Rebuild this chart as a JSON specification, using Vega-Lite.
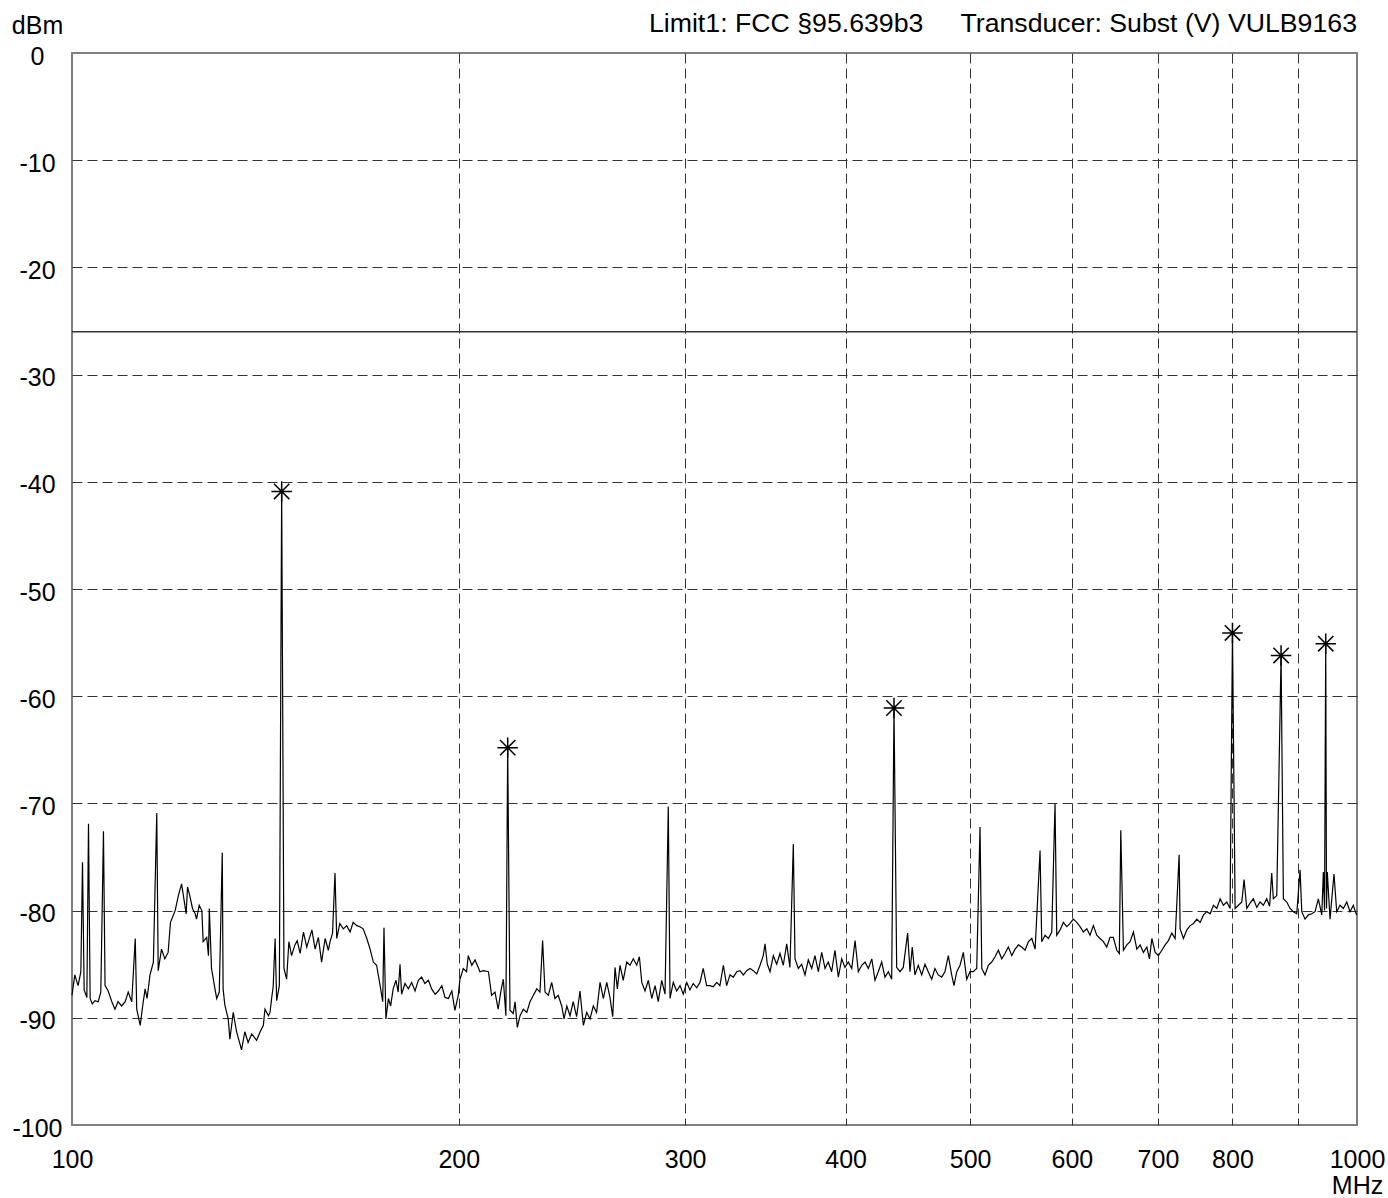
{
"$schema": "https://vega.github.io/schema/vega-lite/v6.json",
"width": 1285, "height": 1072,
"autosize": {"type": "none"},
"padding": {"left": 72, "top": 53, "right": 31, "bottom": 73},
"background": "white",
"title": {"text": "Limit1: FCC §95.639b3\u00a0\u00a0\u00a0\u00a0\u00a0Transducer: Subst (V) VULB9163", "anchor": "end", "frame": "group", "orient": "top", "baseline": "alphabetic", "offset": 20, "dy": 66, "font": "Liberation Sans", "fontSize": 26.7, "fontWeight": "normal", "color": "black"},
"config": {"view": {"stroke": "#808080", "strokeWidth": 2}, "font": "Liberation Sans"},
"datasets": {
"limit": [{"dBm": -26}],
"peaks": [{"MHz":145.6,"dBm":-40.9},{"MHz":218.3,"dBm":-64.8},{"MHz":436.2,"dBm":-61.1},{"MHz":800.0,"dBm":-54.1},{"MHz":872.8,"dBm":-56.2},{"MHz":945.5,"dBm":-55.1}],
"trace": [
{"MHz":100.0,"dBm":-87.9},{"MHz":100.5,"dBm":-86.0},{"MHz":101.1,"dBm":-87.0},{"MHz":101.6,"dBm":-85.7},{"MHz":101.9,"dBm":-75.5},{"MHz":102.2,"dBm":-87.4},{"MHz":102.7,"dBm":-88.1},{"MHz":103.0,"dBm":-71.9},{"MHz":103.3,"dBm":-88.2},{"MHz":103.7,"dBm":-88.7},{"MHz":104.2,"dBm":-88.4},{"MHz":104.8,"dBm":-88.5},{"MHz":105.3,"dBm":-87.6},{"MHz":105.8,"dBm":-72.6},{"MHz":106.1,"dBm":-87.0},{"MHz":106.7,"dBm":-87.5},{"MHz":107.4,"dBm":-88.5},{"MHz":108.0,"dBm":-89.2},{"MHz":108.6,"dBm":-88.5},{"MHz":109.3,"dBm":-88.9},{"MHz":110.0,"dBm":-88.5},{"MHz":110.6,"dBm":-87.6},{"MHz":111.3,"dBm":-88.5},{"MHz":112.0,"dBm":-82.6},{"MHz":112.3,"dBm":-89.2},{"MHz":113.0,"dBm":-90.7},{"MHz":113.5,"dBm":-88.9},{"MHz":114.0,"dBm":-87.3},{"MHz":114.4,"dBm":-88.2},{"MHz":115.0,"dBm":-86.0},{"MHz":115.7,"dBm":-84.8},{"MHz":116.4,"dBm":-70.9},{"MHz":116.7,"dBm":-85.6},{"MHz":117.4,"dBm":-83.6},{"MHz":118.1,"dBm":-84.5},{"MHz":118.8,"dBm":-83.9},{"MHz":119.3,"dBm":-81.1},{"MHz":120.3,"dBm":-80.0},{"MHz":121.0,"dBm":-78.6},{"MHz":121.7,"dBm":-77.5},{"MHz":122.2,"dBm":-78.9},{"MHz":122.7,"dBm":-80.3},{"MHz":123.0,"dBm":-77.8},{"MHz":123.5,"dBm":-78.6},{"MHz":124.1,"dBm":-79.8},{"MHz":124.7,"dBm":-80.3},{"MHz":125.0,"dBm":-80.8},{"MHz":125.6,"dBm":-79.5},{"MHz":126.2,"dBm":-80.0},{"MHz":126.5,"dBm":-82.9},{"MHz":127.3,"dBm":-82.5},{"MHz":127.7,"dBm":-84.2},{"MHz":127.9,"dBm":-79.8},{"MHz":128.4,"dBm":-85.4},{"MHz":129.2,"dBm":-87.3},{"MHz":129.6,"dBm":-88.2},{"MHz":130.2,"dBm":-87.6},{"MHz":130.9,"dBm":-74.6},{"MHz":131.1,"dBm":-87.3},{"MHz":131.5,"dBm":-88.8},{"MHz":132.3,"dBm":-90.1},{"MHz":132.7,"dBm":-92.0},{"MHz":133.5,"dBm":-89.5},{"MHz":134.3,"dBm":-91.3},{"MHz":135.5,"dBm":-93.0},{"MHz":136.3,"dBm":-91.3},{"MHz":137.1,"dBm":-92.3},{"MHz":138.0,"dBm":-91.5},{"MHz":139.2,"dBm":-92.1},{"MHz":140.1,"dBm":-91.3},{"MHz":140.9,"dBm":-90.7},{"MHz":141.3,"dBm":-89.2},{"MHz":142.2,"dBm":-89.8},{"MHz":142.6,"dBm":-89.5},{"MHz":143.0,"dBm":-88.2},{"MHz":143.4,"dBm":-87.1},{"MHz":143.9,"dBm":-82.6},{"MHz":144.3,"dBm":-88.4},{"MHz":145.0,"dBm":-87.0},{"MHz":145.6,"dBm":-40.9},{"MHz":146.2,"dBm":-85.4},{"MHz":146.9,"dBm":-86.4},{"MHz":147.5,"dBm":-82.9},{"MHz":148.2,"dBm":-84.2},{"MHz":149.1,"dBm":-83.2},{"MHz":149.7,"dBm":-82.8},{"MHz":150.5,"dBm":-84.0},{"MHz":151.4,"dBm":-82.0},{"MHz":152.3,"dBm":-83.4},{"MHz":153.7,"dBm":-81.8},{"MHz":154.6,"dBm":-83.6},{"MHz":155.5,"dBm":-82.5},{"MHz":156.4,"dBm":-84.8},{"MHz":157.4,"dBm":-82.6},{"MHz":158.3,"dBm":-83.7},{"MHz":158.8,"dBm":-82.9},{"MHz":159.5,"dBm":-82.1},{"MHz":160.2,"dBm":-76.5},{"MHz":160.7,"dBm":-82.6},{"MHz":161.6,"dBm":-81.2},{"MHz":162.6,"dBm":-81.7},{"MHz":163.6,"dBm":-81.4},{"MHz":164.6,"dBm":-82.0},{"MHz":165.5,"dBm":-81.1},{"MHz":166.6,"dBm":-81.4},{"MHz":167.5,"dBm":-81.5},{"MHz":168.5,"dBm":-81.7},{"MHz":169.6,"dBm":-82.6},{"MHz":170.6,"dBm":-83.6},{"MHz":171.6,"dBm":-84.8},{"MHz":172.6,"dBm":-85.1},{"MHz":173.7,"dBm":-87.0},{"MHz":174.5,"dBm":-88.5},{"MHz":174.9,"dBm":-81.6},{"MHz":175.5,"dBm":-90.1},{"MHz":176.3,"dBm":-88.2},{"MHz":177.0,"dBm":-88.9},{"MHz":177.8,"dBm":-87.3},{"MHz":178.7,"dBm":-86.5},{"MHz":179.4,"dBm":-87.6},{"MHz":180.0,"dBm":-85.0},{"MHz":180.5,"dBm":-87.8},{"MHz":181.6,"dBm":-86.8},{"MHz":182.7,"dBm":-87.3},{"MHz":183.8,"dBm":-86.7},{"MHz":184.9,"dBm":-87.5},{"MHz":186.0,"dBm":-86.5},{"MHz":187.1,"dBm":-86.2},{"MHz":188.2,"dBm":-86.8},{"MHz":189.4,"dBm":-86.5},{"MHz":190.5,"dBm":-87.3},{"MHz":191.7,"dBm":-87.8},{"MHz":192.8,"dBm":-87.5},{"MHz":194.0,"dBm":-87.0},{"MHz":195.1,"dBm":-88.1},{"MHz":196.3,"dBm":-88.2},{"MHz":197.5,"dBm":-87.5},{"MHz":198.6,"dBm":-89.3},{"MHz":199.8,"dBm":-87.9},{"MHz":200.4,"dBm":-86.4},{"MHz":201.6,"dBm":-85.4},{"MHz":202.8,"dBm":-85.7},{"MHz":203.4,"dBm":-84.2},{"MHz":204.7,"dBm":-85.1},{"MHz":205.9,"dBm":-84.6},{"MHz":207.1,"dBm":-85.3},{"MHz":207.7,"dBm":-85.7},{"MHz":209.0,"dBm":-85.6},{"MHz":210.9,"dBm":-85.7},{"MHz":212.1,"dBm":-87.9},{"MHz":213.4,"dBm":-87.6},{"MHz":214.6,"dBm":-89.2},{"MHz":215.6,"dBm":-87.6},{"MHz":216.6,"dBm":-86.4},{"MHz":217.6,"dBm":-89.8},{"MHz":218.3,"dBm":-64.8},{"MHz":219.2,"dBm":-89.3},{"MHz":220.5,"dBm":-89.6},{"MHz":221.2,"dBm":-88.5},{"MHz":222.1,"dBm":-90.9},{"MHz":223.2,"dBm":-89.8},{"MHz":224.5,"dBm":-89.2},{"MHz":225.9,"dBm":-89.5},{"MHz":227.2,"dBm":-88.5},{"MHz":228.6,"dBm":-87.9},{"MHz":230.0,"dBm":-87.3},{"MHz":231.3,"dBm":-87.6},{"MHz":232.4,"dBm":-82.8},{"MHz":233.4,"dBm":-87.6},{"MHz":234.8,"dBm":-87.9},{"MHz":236.2,"dBm":-86.7},{"MHz":237.6,"dBm":-88.2},{"MHz":239.0,"dBm":-87.9},{"MHz":240.5,"dBm":-88.9},{"MHz":241.5,"dBm":-90.1},{"MHz":242.7,"dBm":-88.9},{"MHz":244.1,"dBm":-89.8},{"MHz":245.5,"dBm":-88.5},{"MHz":247.0,"dBm":-89.9},{"MHz":248.5,"dBm":-87.5},{"MHz":250.0,"dBm":-90.7},{"MHz":251.5,"dBm":-89.5},{"MHz":253.0,"dBm":-90.1},{"MHz":254.5,"dBm":-88.9},{"MHz":256.0,"dBm":-89.5},{"MHz":257.6,"dBm":-86.7},{"MHz":259.1,"dBm":-88.2},{"MHz":260.7,"dBm":-86.7},{"MHz":262.2,"dBm":-88.1},{"MHz":263.5,"dBm":-89.9},{"MHz":264.6,"dBm":-85.3},{"MHz":265.7,"dBm":-87.3},{"MHz":267.0,"dBm":-85.1},{"MHz":268.5,"dBm":-86.5},{"MHz":270.2,"dBm":-84.8},{"MHz":271.8,"dBm":-85.1},{"MHz":273.4,"dBm":-84.5},{"MHz":275.1,"dBm":-85.1},{"MHz":276.4,"dBm":-84.3},{"MHz":277.6,"dBm":-86.7},{"MHz":279.2,"dBm":-87.5},{"MHz":280.9,"dBm":-86.5},{"MHz":282.6,"dBm":-88.2},{"MHz":284.3,"dBm":-87.0},{"MHz":285.9,"dBm":-88.5},{"MHz":287.7,"dBm":-86.5},{"MHz":289.4,"dBm":-87.8},{"MHz":291.1,"dBm":-70.3},{"MHz":292.0,"dBm":-88.2},{"MHz":293.7,"dBm":-86.7},{"MHz":295.5,"dBm":-87.5},{"MHz":297.3,"dBm":-87.0},{"MHz":299.0,"dBm":-87.8},{"MHz":300.9,"dBm":-86.7},{"MHz":302.6,"dBm":-87.4},{"MHz":304.4,"dBm":-86.8},{"MHz":306.3,"dBm":-87.2},{"MHz":308.1,"dBm":-86.7},{"MHz":309.9,"dBm":-85.4},{"MHz":311.8,"dBm":-87.0},{"MHz":313.7,"dBm":-87.0},{"MHz":315.5,"dBm":-87.1},{"MHz":317.5,"dBm":-86.7},{"MHz":319.3,"dBm":-87.0},{"MHz":321.3,"dBm":-85.1},{"MHz":323.2,"dBm":-87.0},{"MHz":325.1,"dBm":-86.0},{"MHz":327.1,"dBm":-86.2},{"MHz":329.1,"dBm":-85.7},{"MHz":331.0,"dBm":-85.6},{"MHz":333.0,"dBm":-86.0},{"MHz":335.0,"dBm":-85.6},{"MHz":337.0,"dBm":-85.4},{"MHz":339.0,"dBm":-85.6},{"MHz":341.1,"dBm":-85.9},{"MHz":343.1,"dBm":-85.1},{"MHz":345.1,"dBm":-84.2},{"MHz":346.2,"dBm":-83.1},{"MHz":347.6,"dBm":-85.0},{"MHz":349.3,"dBm":-85.7},{"MHz":351.4,"dBm":-84.2},{"MHz":353.5,"dBm":-85.0},{"MHz":355.6,"dBm":-84.0},{"MHz":357.7,"dBm":-85.1},{"MHz":359.9,"dBm":-83.1},{"MHz":362.0,"dBm":-85.3},{"MHz":364.2,"dBm":-73.8},{"MHz":365.3,"dBm":-84.5},{"MHz":367.5,"dBm":-85.4},{"MHz":369.7,"dBm":-85.0},{"MHz":371.9,"dBm":-86.0},{"MHz":374.1,"dBm":-84.6},{"MHz":376.4,"dBm":-85.4},{"MHz":378.6,"dBm":-84.2},{"MHz":380.9,"dBm":-85.7},{"MHz":383.2,"dBm":-83.9},{"MHz":385.5,"dBm":-85.4},{"MHz":387.7,"dBm":-84.8},{"MHz":390.1,"dBm":-85.7},{"MHz":392.4,"dBm":-83.7},{"MHz":394.8,"dBm":-86.2},{"MHz":397.2,"dBm":-84.5},{"MHz":399.5,"dBm":-85.3},{"MHz":401.9,"dBm":-84.8},{"MHz":404.4,"dBm":-85.4},{"MHz":406.8,"dBm":-82.8},{"MHz":409.2,"dBm":-85.7},{"MHz":411.7,"dBm":-85.1},{"MHz":414.2,"dBm":-84.8},{"MHz":416.6,"dBm":-85.4},{"MHz":419.2,"dBm":-84.5},{"MHz":421.6,"dBm":-86.5},{"MHz":424.1,"dBm":-85.7},{"MHz":426.7,"dBm":-84.8},{"MHz":429.2,"dBm":-86.2},{"MHz":431.8,"dBm":-85.7},{"MHz":434.4,"dBm":-86.4},{"MHz":436.2,"dBm":-61.1},{"MHz":438.3,"dBm":-85.3},{"MHz":440.9,"dBm":-85.7},{"MHz":443.5,"dBm":-85.3},{"MHz":447.0,"dBm":-82.1},{"MHz":448.9,"dBm":-85.7},{"MHz":450.7,"dBm":-83.4},{"MHz":452.9,"dBm":-86.0},{"MHz":455.6,"dBm":-85.1},{"MHz":458.4,"dBm":-86.0},{"MHz":461.1,"dBm":-85.0},{"MHz":463.8,"dBm":-85.7},{"MHz":466.7,"dBm":-86.4},{"MHz":469.4,"dBm":-85.4},{"MHz":472.2,"dBm":-86.0},{"MHz":475.1,"dBm":-86.2},{"MHz":477.9,"dBm":-85.7},{"MHz":480.8,"dBm":-84.2},{"MHz":483.7,"dBm":-86.0},{"MHz":485.7,"dBm":-87.0},{"MHz":488.1,"dBm":-85.7},{"MHz":491.0,"dBm":-85.1},{"MHz":493.9,"dBm":-83.9},{"MHz":496.9,"dBm":-86.4},{"MHz":499.9,"dBm":-85.7},{"MHz":502.8,"dBm":-85.7},{"MHz":505.9,"dBm":-85.4},{"MHz":508.9,"dBm":-72.2},{"MHz":510.5,"dBm":-85.4},{"MHz":513.5,"dBm":-86.0},{"MHz":516.5,"dBm":-85.1},{"MHz":519.7,"dBm":-84.8},{"MHz":522.8,"dBm":-84.3},{"MHz":525.9,"dBm":-83.7},{"MHz":529.1,"dBm":-84.5},{"MHz":532.2,"dBm":-84.0},{"MHz":535.4,"dBm":-83.4},{"MHz":538.7,"dBm":-84.2},{"MHz":541.9,"dBm":-83.6},{"MHz":545.1,"dBm":-83.2},{"MHz":548.4,"dBm":-83.4},{"MHz":551.7,"dBm":-83.7},{"MHz":555.0,"dBm":-82.9},{"MHz":558.4,"dBm":-82.6},{"MHz":561.7,"dBm":-83.6},{"MHz":566.7,"dBm":-74.4},{"MHz":568.4,"dBm":-82.9},{"MHz":571.8,"dBm":-82.3},{"MHz":575.2,"dBm":-82.6},{"MHz":578.7,"dBm":-82.0},{"MHz":582.1,"dBm":-70.0},{"MHz":583.9,"dBm":-82.3},{"MHz":587.4,"dBm":-81.8},{"MHz":590.8,"dBm":-81.1},{"MHz":594.5,"dBm":-81.5},{"MHz":598.0,"dBm":-81.2},{"MHz":601.5,"dBm":-80.8},{"MHz":605.2,"dBm":-81.1},{"MHz":608.8,"dBm":-81.5},{"MHz":612.4,"dBm":-82.0},{"MHz":616.2,"dBm":-81.7},{"MHz":619.8,"dBm":-82.3},{"MHz":623.5,"dBm":-81.4},{"MHz":627.3,"dBm":-82.3},{"MHz":631.0,"dBm":-82.6},{"MHz":634.8,"dBm":-82.9},{"MHz":638.6,"dBm":-83.4},{"MHz":642.4,"dBm":-82.5},{"MHz":646.2,"dBm":-82.5},{"MHz":650.2,"dBm":-83.7},{"MHz":653.2,"dBm":-84.0},{"MHz":654.9,"dBm":-72.5},{"MHz":658.0,"dBm":-83.7},{"MHz":662.0,"dBm":-83.2},{"MHz":665.9,"dBm":-82.9},{"MHz":669.9,"dBm":-82.0},{"MHz":674.0,"dBm":-83.6},{"MHz":678.0,"dBm":-83.2},{"MHz":682.0,"dBm":-83.9},{"MHz":686.2,"dBm":-83.4},{"MHz":689.4,"dBm":-84.5},{"MHz":692.4,"dBm":-82.6},{"MHz":696.5,"dBm":-83.9},{"MHz":700.6,"dBm":-84.2},{"MHz":704.9,"dBm":-83.7},{"MHz":709.1,"dBm":-83.2},{"MHz":713.3,"dBm":-82.8},{"MHz":717.6,"dBm":-82.1},{"MHz":721.9,"dBm":-82.6},{"MHz":727.1,"dBm":-74.8},{"MHz":728.4,"dBm":-81.7},{"MHz":732.7,"dBm":-82.6},{"MHz":737.2,"dBm":-81.8},{"MHz":741.6,"dBm":-81.4},{"MHz":746.0,"dBm":-81.2},{"MHz":750.5,"dBm":-80.8},{"MHz":755.0,"dBm":-81.1},{"MHz":759.5,"dBm":-80.4},{"MHz":764.1,"dBm":-80.1},{"MHz":768.6,"dBm":-80.3},{"MHz":773.2,"dBm":-79.5},{"MHz":777.9,"dBm":-79.8},{"MHz":782.5,"dBm":-78.9},{"MHz":787.1,"dBm":-79.5},{"MHz":791.9,"dBm":-79.2},{"MHz":796.6,"dBm":-79.8},{"MHz":800.0,"dBm":-54.1},{"MHz":803.8,"dBm":-79.8},{"MHz":808.5,"dBm":-79.5},{"MHz":813.5,"dBm":-79.2},{"MHz":816.8,"dBm":-77.1},{"MHz":820.8,"dBm":-79.8},{"MHz":825.6,"dBm":-79.3},{"MHz":830.5,"dBm":-78.9},{"MHz":835.6,"dBm":-79.7},{"MHz":840.5,"dBm":-79.2},{"MHz":845.5,"dBm":-79.5},{"MHz":850.7,"dBm":-78.9},{"MHz":855.0,"dBm":-79.6},{"MHz":858.3,"dBm":-76.5},{"MHz":860.8,"dBm":-78.9},{"MHz":866.1,"dBm":-78.6},{"MHz":872.8,"dBm":-56.2},{"MHz":876.4,"dBm":-78.9},{"MHz":881.7,"dBm":-79.2},{"MHz":887.0,"dBm":-79.8},{"MHz":892.2,"dBm":-80.1},{"MHz":897.7,"dBm":-80.3},{"MHz":903.0,"dBm":-76.2},{"MHz":905.8,"dBm":-80.1},{"MHz":911.1,"dBm":-80.8},{"MHz":916.5,"dBm":-80.4},{"MHz":922.1,"dBm":-80.3},{"MHz":927.6,"dBm":-80.1},{"MHz":933.1,"dBm":-78.9},{"MHz":938.8,"dBm":-80.4},{"MHz":941.5,"dBm":-76.4},{"MHz":943.5,"dBm":-80.0},{"MHz":945.5,"dBm":-55.1},{"MHz":946.8,"dBm":-79.8},{"MHz":948.2,"dBm":-76.4},{"MHz":952.8,"dBm":-80.8},{"MHz":959.6,"dBm":-76.6},{"MHz":964.3,"dBm":-80.1},{"MHz":970.0,"dBm":-79.5},{"MHz":975.8,"dBm":-79.8},{"MHz":981.8,"dBm":-79.2},{"MHz":987.6,"dBm":-80.1},{"MHz":993.4,"dBm":-79.5},{"MHz":998.3,"dBm":-80.3},{"MHz":1000.0,"dBm":-80.4}
]
},
"layer": [
{
"data": {"name": "trace"},
"mark": {"type": "line", "color": "black", "strokeWidth": 1.2},
"encoding": {
"x": {"field": "MHz", "type": "quantitative",
"scale": {"type": "log", "domain": [100, 1000], "nice": false},
"axis": {"values": [100,200,300,400,500,600,700,800,900,1000],
"labelExpr": "datum.value == 900 ? '' : format(datum.value, 'd')",
"grid": true, "gridDash": [10,5], "gridColor": "#333333", "gridWidth": 1,
"gridOpacity": {"condition": {"test": "datum.value == 100 || datum.value == 1000", "value": 0}, "value": 1},
"domain": false, "ticks": false, "tickSize": 0, "labelPadding": 22,
"labelFont": "Liberation Sans", "labelFontSize": 25, "labelColor": "black",
"labelFlush": false, "labelOverlap": false, "labelBound": false,
"title": "MHz", "titleX": 1285, "titleY": 68, "titleAlign": "center", "titleBaseline": "alphabetic",
"titleFont": "Liberation Sans", "titleFontSize": 25, "titleFontWeight": "normal", "titleColor": "black"}},
"y": {"field": "dBm", "type": "quantitative",
"scale": {"domain": [-100, 0], "nice": false, "zero": false},
"axis": {"values": [-100,-90,-80,-70,-60,-50,-40,-30,-20,-10,0],
"labelExpr": "'' + datum.value",
"grid": true, "gridDash": [10,5], "gridColor": "#333333", "gridWidth": 1,
"gridOpacity": {"condition": {"test": "datum.value == 0 || datum.value == -100", "value": 0}, "value": 1},
"domain": false, "ticks": false, "tickSize": 0, "labelPadding": 35, "labelAlign": "center", "labelBaseline": "middle", "labelOffset": 3,
"labelFont": "Liberation Sans", "labelFontSize": 25, "labelColor": "black",
"labelFlush": false, "labelOverlap": false, "labelBound": false,
"title": "dBm", "titleAngle": 0, "titleX": -35, "titleY": -20, "titleAlign": "center", "titleBaseline": "alphabetic",
"titleFont": "Liberation Sans", "titleFontSize": 25, "titleFontWeight": "normal", "titleColor": "black"}}
}
},
{
"data": {"name": "limit"},
"mark": {"type": "rule", "color": "#333333", "strokeWidth": 1.5},
"encoding": {"y": {"field": "dBm", "type": "quantitative"}}
},
{
"data": {"name": "peaks"},
"mark": {"type": "point", "shape": "M-1,0L1,0M0,-1L0,1M-0.75,-0.75L0.75,0.75M-0.75,0.75L0.75,-0.75", "size": 420, "filled": false, "color": "black", "strokeWidth": 1.5, "opacity": 1},
"encoding": {"x": {"field": "MHz", "type": "quantitative"}, "y": {"field": "dBm", "type": "quantitative"}}
}
]
}
